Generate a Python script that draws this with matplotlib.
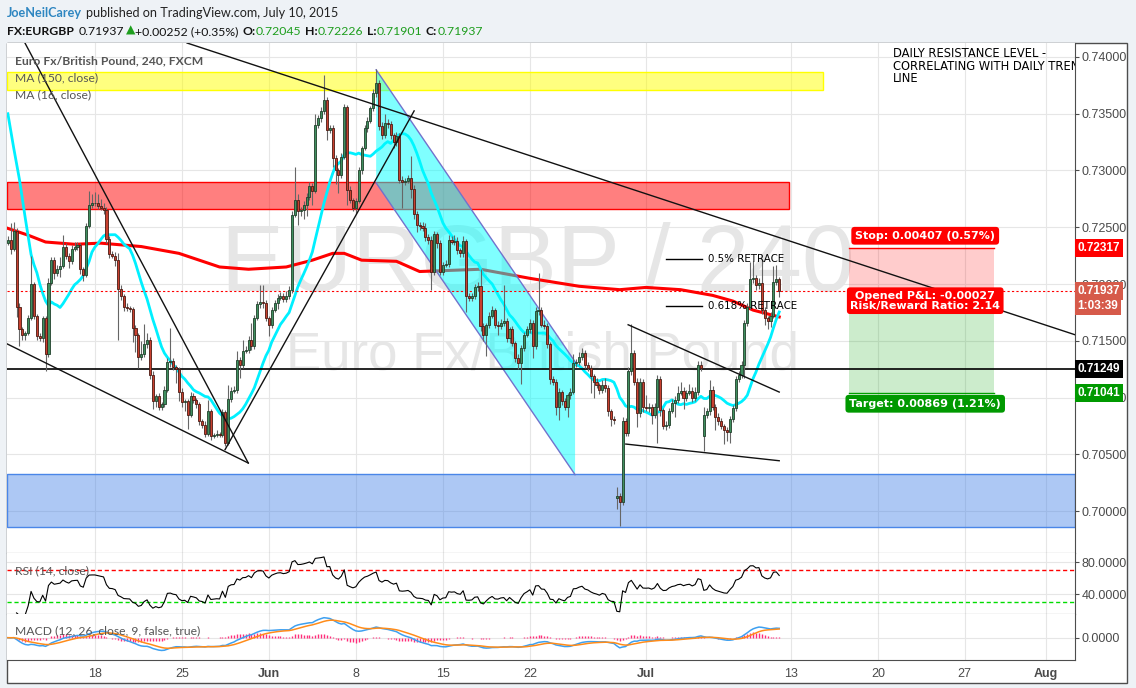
import matplotlib
matplotlib.use("Agg")
import matplotlib.pyplot as plt
from matplotlib.patches import Rectangle, Polygon
from matplotlib.ticker import FormatStrFormatter
from matplotlib.transforms import blended_transform_factory
import numpy as np
import pandas as pd

# 240 min bars, bar 0 = Mon May 11 2015 (30 bars a week)
closes = [
    0.7239, 0.7231, 0.7247, 0.7180, 0.7160, 0.7155, 0.7157, 0.7170, 0.7200, 0.7172,
    0.7154, 0.7152, 0.7170, 0.7138, 0.7201, 0.7221, 0.7210, 0.7213, 0.7216, 0.7233,
    0.7225, 0.7220, 0.7231, 0.7233, 0.7234, 0.7213, 0.7208, 0.7251, 0.7270, 0.7271,
    0.7271, 0.7269, 0.7267, 0.7265, 0.7240, 0.7226, 0.7225, 0.7221, 0.7196, 0.7189,
    0.7180, 0.7179, 0.7178, 0.7161, 0.7155, 0.7136, 0.7138, 0.7147, 0.7151, 0.7120,
    0.7097, 0.7101, 0.7092, 0.7094, 0.7107, 0.7131, 0.7132, 0.7127, 0.7125, 0.7105,
    0.7096, 0.7097, 0.7085, 0.7101, 0.7098, 0.7094, 0.7079, 0.7076, 0.7068, 0.7088,
    0.7066, 0.7067, 0.7068, 0.7067, 0.7087, 0.7060, 0.7099, 0.7106, 0.7107, 0.7133,
    0.7129, 0.7141, 0.7142, 0.7151, 0.7145, 0.7170, 0.7182, 0.7184, 0.7183, 0.7170,
    0.7164, 0.7177, 0.7183, 0.7188, 0.7189, 0.7187, 0.7189, 0.7195, 0.7261, 0.7274,
    0.7264, 0.7265, 0.7270, 0.7277, 0.7286, 0.7282, 0.7340, 0.7346, 0.7352, 0.7362,
    0.7336, 0.7337, 0.7311, 0.7300, 0.7296, 0.7312, 0.7356, 0.7283, 0.7274, 0.7267,
    0.7273, 0.7300, 0.7320, 0.7337, 0.7344, 0.7355, 0.7368, 0.7377, 0.7339, 0.7331,
    0.7342, 0.7341, 0.7331, 0.7325, 0.7330, 0.7292, 0.7290, 0.7291, 0.7293, 0.7284,
    0.7262, 0.7252, 0.7251, 0.7249, 0.7241, 0.7239, 0.7211, 0.7244, 0.7236, 0.7211,
    0.7217, 0.7218, 0.7239, 0.7237, 0.7238, 0.7230, 0.7227, 0.7238, 0.7189, 0.7188,
    0.7189, 0.7197, 0.7198, 0.7163, 0.7155, 0.7164, 0.7172, 0.7177, 0.7164, 0.7163,
    0.7166, 0.7167, 0.7152, 0.7160, 0.7148, 0.7135, 0.7130, 0.7144, 0.7155, 0.7160,
    0.7166, 0.7145, 0.7176, 0.7177, 0.7164, 0.7163, 0.7147, 0.7116, 0.7114, 0.7092,
    0.7105, 0.7097, 0.7092, 0.7102, 0.7105, 0.7130, 0.7131, 0.7136, 0.7139, 0.7129,
    0.7126, 0.7119, 0.7114, 0.7111, 0.7107, 0.7111, 0.7108, 0.7088, 0.7081, 0.7080,
    0.7013, 0.7008, 0.7079, 0.7069, 0.7123, 0.7139, 0.7114, 0.7086, 0.7114, 0.7092,
    0.7091, 0.7092, 0.7085, 0.7092, 0.7116, 0.7089, 0.7075, 0.7076, 0.7088, 0.7095,
    0.7098, 0.7104, 0.7106, 0.7100, 0.7104, 0.7106, 0.7100, 0.7105, 0.7129, 0.7126,
    0.7085, 0.7088, 0.7107, 0.7092, 0.7083, 0.7079, 0.7075, 0.7071, 0.7070, 0.7081,
    0.7091, 0.7116, 0.7120, 0.7129, 0.7166, 0.7180, 0.7204, 0.7205, 0.7199, 0.7201,
    0.7177, 0.7170, 0.7167, 0.7172, 0.7202, 0.7204, 0.71937,
]
# wicks in pips above / below the body
wick_up = [
    3, 15, 8, 2, 3, 2, 2, 3, 25, 2,
    2, 3, 2, 2, 4, 3, 3, 4, 8, 10,
    3, 2, 3, 4, 3, 2, 2, 3, 12, 8,
    10, 8, 6, 4, 3, 2, 3, 3, 6, 3,
    2, 3, 2, 2, 3, 2, 12, 18, 6, 2,
    3, 2, 3, 2, 3, 4, 29, 3, 2, 2,
    3, 2, 2, 4, 3, 2, 2, 2, 3, 10,
    2, 2, 3, 2, 3, 2, 12, 3, 3, 8,
    3, 10, 3, 3, 15, 3, 3, 15, 15, 3,
    2, 3, 3, 3, 4, 3, 5, 3, 3, 29,
    5, 3, 3, 3, 4, 3, 10, 3, 4, 22,
    3, 3, 3, 3, 2, 3, 3, 2, 3, 2,
    3, 3, 2, 3, 3, 2, 4, 12, 3, 4,
    8, 3, 3, 2, 4, 3, 3, 2, 3, 20,
    3, 2, 3, 4, 5, 3, 3, 3, 2, 3,
    2, 3, 4, 3, 5, 3, 2, 4, 2, 3,
    3, 3, 4, 15, 3, 2, 3, 4, 2, 3,
    3, 32, 3, 2, 3, 2, 3, 2, 3, 3,
    3, 2, 4, 33, 3, 4, 3, 2, 3, 2,
    3, 2, 3, 2, 3, 8, 3, 4, 5, 3,
    2, 3, 2, 3, 2, 4, 6, 3, 2, 3,
    8, 3, 4, 3, 4, 26, 3, 3, 3, 2,
    10, 3, 2, 3, 4, 3, 2, 3, 3, 4,
    3, 6, 8, 3, 3, 6, 3, 4, 3, 3,
    7, 3, 8, 3, 2, 3, 3, 2, 3, 3,
    2, 3, 3, 3, 2, 3, 15, 15, 3, 4,
    20, 3, 2, 3, 14, 13, 2,
]
wick_dn = [
    2, 5, 2, 9, 15, 4, 4, 2, 2, 3,
    3, 2, 3, 15, 2, 2, 6, 3, 7, 2,
    3, 6, 2, 2, 3, 4, 5, 2, 2, 3,
    2, 3, 2, 3, 4, 3, 2, 5, 45, 3,
    4, 3, 3, 12, 15, 10, 3, 2, 3, 4,
    7, 5, 3, 3, 2, 2, 4, 3, 12, 8,
    4, 8, 13, 2, 3, 3, 3, 3, 3, 2,
    3, 2, 2, 2, 2, 3, 2, 3, 2, 3,
    12, 3, 2, 3, 3, 2, 2, 3, 4, 3,
    10, 3, 2, 5, 2, 3, 3, 2, 3, 2,
    12, 4, 8, 10, 3, 12, 2, 3, 3, 2,
    9, 3, 8, 12, 16, 3, 2, 13, 3, 3,
    5, 2, 3, 2, 3, 2, 3, 3, 3, 3,
    2, 4, 3, 5, 3, 3, 23, 3, 2, 8,
    5, 6, 3, 2, 3, 4, 16, 3, 4, 3,
    3, 2, 3, 2, 3, 4, 3, 3, 14, 3,
    3, 2, 3, 4, 5, 18, 3, 2, 3, 8,
    3, 3, 3, 4, 3, 4, 5, 18, 3, 2,
    3, 10, 2, 3, 2, 3, 3, 4, 3, 7,
    12, 4, 3, 9, 3, 2, 3, 2, 3, 3,
    3, 15, 14, 3, 4, 3, 3, 4, 6, 3,
    10, 21, 3, 3, 3, 3, 3, 12, 3, 5,
    3, 4, 8, 3, 32, 5, 3, 4, 3, 2,
    12, 3, 2, 10, 3, 2, 4, 3, 3, 3,
    13, 3, 3, 3, 12, 3, 3, 12, 8, 10,
    3, 3, 2, 3, 12, 3, 2, 3, 4, 3,
    3, 6, 7, 5, 2, 3, 5,
]
first_open = 0.7236
gap_bars = [210, 240]          # weekend gaps (Jun 29, Jul 6)
gap_opens = [0.70115, 0.7066]

# MA16 before 16 closes are on screen
ma16_head = [0.7350, 0.7335, 0.7320, 0.7306, 0.7292, 0.7275, 0.7258, 0.7242,
             0.7226, 0.7217, 0.7210, 0.7200, 0.7192, 0.7185, 0.7181]
ma150_bars = [0, 7, 13, 23, 32, 46, 59, 73, 83, 96, 105, 112, 116, 122, 134, 142,
              163, 180, 197, 211, 220, 232, 243, 250, 257, 266]
ma150_vals = [0.7249, 0.7243, 0.7237, 0.7235, 0.7236, 0.7233, 0.7227, 0.7215, 0.7213,
              0.7215, 0.7221, 0.7227, 0.7227, 0.7221, 0.7220, 0.7211, 0.7213, 0.7205,
              0.7198, 0.7195, 0.7197, 0.7195, 0.7190, 0.7185, 0.7177, 0.7171]

date_bars = [30, 60, 90, 120, 150, 180, 220, 270, 300, 330, 358]
date_labels = ["18", "25", "Jun", "8", "15", "22", "Jul", "13", "20", "27", "Aug"]
month_names = ["Jun", "Jul", "Aug"]
price_ticks = [0.700, 0.705, 0.710, 0.715, 0.720, 0.725, 0.730, 0.735, 0.740]

# author's drawings (bar, price)
yellow_zone = [-0.3, 281.1, 0.73710, 0.73868]
red_zone = [-0.3, 269.4, 0.72662, 0.72900]
blue_zone = [-0.3, 368.0, 0.69863, 0.70329]
channel_x = [127.0, 195.6]
channel_top = [0.73887, 0.71315]
channel_bot = [0.72891, 0.70320]
trend_x = [[5.9, 82.9], [-0.3, 82.9], [74.9, 140.1], [61.8, 368.0], [213.9, 266.0], [213.1, 266.0]]
trend_y = [[0.74123, 0.70423], [0.71473, 0.70423], [0.70541, 0.73525],
           [0.74123, 0.71553], [0.71641, 0.71048], [0.70590, 0.70443]]
support_level = 0.71249
last_price = 0.71937
entry, stop, target = 0.71910, 0.72317, 0.71041
rr_x = [290.2, 339.9]
fib_x = [227.0, 239.3]
fib_levels = [0.72219, 0.71802]
fib_labels = ["0.5% RETRACE", "0.618% RETRACE"]

W, H = 1136, 688
XL = (-0.3, 368.0)
GRID = "#e6e6e6"
DARK = "#4d4d4d"

fig = plt.figure(figsize=(W / 100, H / 100), dpi=100)
fig.patch.set_facecolor("#eef2f6")
fig.patches.append(Rectangle((7 / W, (H - 683) / H), 1120 / W, 640 / H, transform=fig.transFigure,
                             fc="white", ec=DARK, lw=1, zorder=-1))

ax = fig.add_axes([7 / W, (H - 553.3) / H, 1068 / W, 510.3 / H])
ax_rsi = fig.add_axes([7 / W, (H - 614.3) / H, 1068 / W, 61 / H])
ax_macd = fig.add_axes([7 / W, (H - 660) / H, 1068 / W, 45.7 / H])

for a in (ax, ax_rsi, ax_macd):
    a.set_xlim(*XL)
    a.set_xticks(date_bars)
    a.grid(True, color=GRID, lw=0.8)
    a.set_axisbelow(True)
    a.yaxis.tick_right()
    for s in ("left", "top"):
        a.spines[s].set_visible(False)
    for s in ("right", "bottom"):
        a.spines[s].set_color(DARK)
    a.tick_params(axis="y", direction="out", length=3, color=DARK, labelsize=9,
                  labelcolor="#4a4a4a", pad=2)
ax.tick_params(axis="x", length=0, labelbottom=False)
ax_rsi.tick_params(axis="x", length=0, labelbottom=False)

# ---- main price panel ----
c = np.array(closes)
x = np.arange(len(c))
o = np.r_[first_open, c[:-1]]
o[gap_bars] = gap_opens
top = np.maximum(o, c)
bot = np.minimum(o, c)
hi = top + np.array(wick_up) * 1e-4
lo = bot - np.array(wick_dn) * 1e-4
up = c >= o
h = np.maximum(top - bot, 0.00004)

ax.set_ylim(0.696276, 0.741232)
ax.set_yticks(price_ticks)
ax.yaxis.set_major_formatter(FormatStrFormatter("%.5f"))
for t in ax.get_yticklabels():
    t.set_family("Liberation Sans")

ax.text(0.497, 0.562, "EURGBP / 240", transform=ax.transAxes, ha="center", va="center",
        fontsize=68, color="#e6e6e6", family="Liberation Sans", zorder=0.6)
ax.text(0.501, 0.387, "Euro Fx/British Pound", transform=ax.transAxes, ha="center", va="center",
        fontsize=38, color="#e6e6e6", family="Liberation Sans", zorder=0.6)

for zone, fc, ec, al in [(yellow_zone, "#ffff00", "#ffff00", 0.5), (red_zone, "#ff0000", "#ff0000", 0.5),
                         (blue_zone, "#4a86e8", "#4a86e8", 0.45)]:
    ax.add_patch(Rectangle((zone[0], zone[2]), zone[1] - zone[0], zone[3] - zone[2],
                           fc=fc, alpha=al, ec="none", zorder=2))
    ax.add_patch(Rectangle((zone[0], zone[2]), zone[1] - zone[0], zone[3] - zone[2],
                           fc="none", ec=ec, lw=1, zorder=2))

ax.plot(ma150_bars, ma150_vals, color="#ff0000", lw=2.2, zorder=3)
ma16 = pd.Series(closes).rolling(16).mean().to_numpy()
ma16[:len(ma16_head)] = ma16_head
ax.plot(x, ma16, color="#00f0ff", lw=2, zorder=3)

chan = [(channel_x[0], channel_top[0]), (channel_x[1], channel_top[1]),
        (channel_x[1], channel_bot[1]), (channel_x[0], channel_bot[0])]
ax.add_patch(Polygon(chan, closed=True, fc="#00ffff", alpha=0.5, ec="none", zorder=4))
ax.plot(channel_x, channel_top, color="#7272cc", lw=1, zorder=4)
ax.plot(channel_x, channel_bot, color="#7272cc", lw=1, zorder=4)

# risk / reward tool
ax.add_patch(Rectangle((rr_x[0], entry), rr_x[1] - rr_x[0], stop - entry, fc="#ff0000", alpha=0.2,
                       ec="none", zorder=2))
ax.add_patch(Rectangle((rr_x[0], target), rr_x[1] - rr_x[0], entry - target, fc="#00a000", alpha=0.2,
                       ec="none", zorder=2))
ax.plot(rr_x, [stop, stop], color="#ff0000", lw=1, zorder=2)
ax.plot(rr_x, [target, target], color="#00a000", lw=1, zorder=2)

ax.axhline(support_level, color="black", lw=1.2, zorder=4)
ax.axhline(last_price, color="#ff0000", lw=0.8, ls=(0, (2, 2)), zorder=4)
for tx, ty in zip(trend_x, trend_y):
    ax.plot(tx, ty, color="#111111", lw=1, zorder=7)

# candles
ax.vlines(x, lo, hi, color="#666666", lw=0.8, zorder=5)
ax.bar(x[up], h[up], bottom=bot[up], width=0.72, color="#3f8f5f", edgecolor="#1f3f2a", lw=0.6, zorder=6)
ax.bar(x[~up], h[~up], bottom=bot[~up], width=0.72, color="#c8402f", edgecolor="#4a1a12", lw=0.6, zorder=6)

for lv, lb in zip(fib_levels, fib_labels):
    ax.plot(fib_x, [lv, lv], color="black", lw=1, zorder=7)
    ax.text(241.5, lv, lb, ha="left", va="center", fontsize=7.4, family="DejaVu Sans", zorder=8)
ax.text(305.2, 0.74085, "DAILY RESISTANCE LEVEL -\nCORRELATING WITH DAILY TREND\nLINE",
        ha="left", va="top", fontsize=8.3, family="DejaVu Sans", linespacing=0.92, clip_on=True, zorder=8)

box_kw = dict(ha="center", va="center", color="white", fontsize=8, fontweight="bold",
              family="DejaVu Sans", zorder=9)
mid = (rr_x[0] + rr_x[1]) / 2 + 1.3
ax.text(mid, 0.72425, "Stop: 0.00407 (0.57%)",
        bbox=dict(boxstyle="round,pad=0.35,rounding_size=0.3", fc="#ff0000", ec="none"), **box_kw)
ax.text(mid, 0.71853, "Opened P&L: -0.00027\nRisk/Reward Ratio: 2.14", linespacing=1.0,
        multialignment="center",
        bbox=dict(boxstyle="round,pad=0.3,rounding_size=0.3", fc="#ff0000", ec="none"), **box_kw)
ax.text(mid, 0.70945, "Target: 0.00869 (1.21%)",
        bbox=dict(boxstyle="round,pad=0.35,rounding_size=0.3", fc="#009900", ec="none"), **box_kw)

# legend
ax.text(0.0075, 0.9646, "Euro Fx/British Pound, 240, FXCM", transform=ax.transAxes, va="center",
        fontsize=8.7, fontweight="bold", color="#555555", family="Lato", zorder=9)
ax.text(0.0075, 0.9312, "MA (150, close)", transform=ax.transAxes, va="center",
        fontsize=8.7, color="#555555", family="Lato", zorder=9)
ax.text(0.0075, 0.8978, "MA (16, close)", transform=ax.transAxes, va="center",
        fontsize=8.7, color="#555555", family="Lato", zorder=9)

# price labels on the scale
bt = blended_transform_factory(ax.transAxes, ax.transData)
for val, txt, col in [(stop, "0.72317", "#ff0000"), (last_price, "0.71937", "#d65a4a"),
                      (0.71806, "1:03:39", "#d65a4a"), (support_level, "0.71249", "#000000"),
                      (target, "0.71041", "#009900")]:
    ax.text(1.0025, val, txt, transform=bt, ha="left", va="center", fontsize=8.5, fontweight="bold",
            color="white", family="Liberation Sans", clip_on=False, zorder=10,
            bbox=dict(boxstyle="square,pad=0.25", fc=col, ec="none"))

# ---- RSI ----
cs = pd.Series(closes)
d = cs.diff()
gain = d.clip(lower=0).ewm(alpha=1 / 14, adjust=True, min_periods=3).mean()
loss = (-d.clip(upper=0)).ewm(alpha=1 / 14, adjust=True, min_periods=3).mean()
rsi = 100 - 100 / (1 + gain / loss)
ax_rsi.set_ylim(15, 91.25)
ax_rsi.set_yticks([40, 80])
ax_rsi.set_yticklabels(["40.0000", "80.0000"], family="Liberation Sans")
ax_rsi.axhline(70, color="#ff0000", lw=1, ls=(0, (3, 2)), zorder=2)
ax_rsi.axhline(30, color="#00dd00", lw=1, ls=(0, (3, 2)), zorder=2)
ax_rsi.plot(x, rsi, color="black", lw=0.8, zorder=3)
ax_rsi.text(0.0075, 0.71, "RSI (14, close)", transform=ax_rsi.transAxes, va="center",
            fontsize=8.7, color="#555555", family="Lato", zorder=9)

# ---- MACD ----
macd = cs.ewm(span=12, adjust=False).mean() - cs.ewm(span=26, adjust=False).mean()
signal = macd.ewm(span=9, adjust=False).mean()
hist = macd - signal
m = max(macd.abs().max(), signal.abs().max())
ax_macd.set_ylim(-m * 22.3 / 20, m * 23.4 / 20)
ax_macd.set_yticks([0])
ax_macd.set_yticklabels(["0.0000"], family="Liberation Sans")
ax_macd.vlines(x, 0, hist, color="#ff2d7a", lw=1, zorder=2)
ax_macd.plot(x, macd, color="#3ea0f0", lw=1.1, zorder=3)
ax_macd.plot(x, signal, color="#ff8c1a", lw=1.1, zorder=3)
ax_macd.text(0.0075, 0.635, "MACD (12, 26, close, 9, false, true)", transform=ax_macd.transAxes,
             va="center", fontsize=8.7, color="#555555", family="Lato", zorder=9)
ax_macd.set_xticklabels(date_labels)
ax_macd.tick_params(axis="x", length=0, pad=6, labelsize=9, labelcolor="#4a4a4a")
for t in ax_macd.get_xticklabels():
    t.set_family("Liberation Sans")
    if t.get_text() in month_names:
        t.set_fontweight("bold")

# ---- header ----
hdr = fig.add_axes([0, 0, 1, 1])
hdr.axis("off")
hdr.set_zorder(5)


def text_line(parts, x_px, y_px, size):
    prev = None
    for s, col, wt, fam, gap in parts:
        kw = dict(color=col, fontweight=wt, family=fam, fontsize=size, va="bottom", ha="left")
        if prev is None:
            prev = hdr.text(x_px / W, 1 - y_px / H, s, transform=hdr.transAxes, **kw)
        else:
            prev = hdr.annotate(s, xy=(1, 0), xycoords=prev, xytext=(gap, 0),
                                textcoords="offset points", **kw)


G = "#1e9e1e"
text_line([("JoeNeilCarey", "#2e86c1", "bold", "Lato", 0),
           ("published on TradingView.com, July 10, 2015", "#222222", "normal", "Lato", 2.6)], 7, 19, 9.1)
text_line([("FX:EURGBP", "#111111", "bold", "Lato", 0),
           ("0.71937", "#111111", "normal", "Lato", 3.5),
           ("\u25b2", G, "normal", "DejaVu Sans", 1),
           ("+0.00252 (+0.35%)", "#111111", "normal", "Lato", 0.3),
           ("O:", "#111111", "bold", "Lato", 2.5),
           ("0.72045", G, "normal", "Lato", 0.3),
           ("H:", "#111111", "bold", "Lato", 2.5),
           ("0.72226", G, "normal", "Lato", 0.3),
           ("L:", "#111111", "bold", "Lato", 2.5),
           ("0.71901", G, "normal", "Lato", 0.3),
           ("C:", "#111111", "bold", "Lato", 2.5),
           ("0.71937", G, "normal", "Lato", 0.3)], 7, 37, 8.8)

fig.savefig("out.png", dpi=100, facecolor=fig.get_facecolor())
